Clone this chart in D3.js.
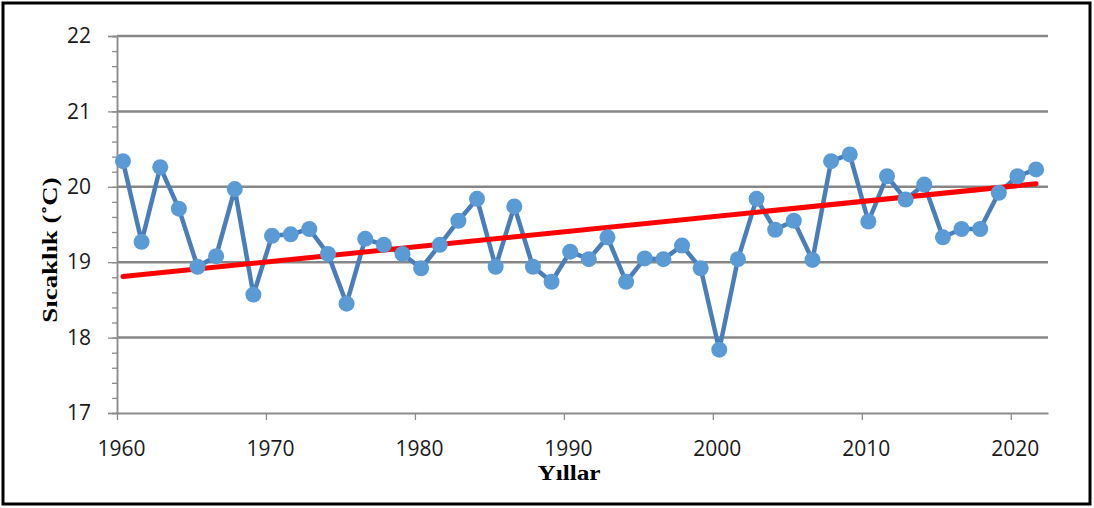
<!DOCTYPE html>
<html>
<head>
<meta charset="utf-8">
<script src="https://cdn.jsdelivr.net/npm/d3@7"></script>
<style>
  body { margin: 0; background: #fff; }
</style>
</head>
<body>
<svg id="chart" width="1094" height="508"></svg>
<script>
// temperatures, 50 points spread over 1960-2021
const temps = [
  20.34, 19.27, 20.26, 19.71, 18.94, 19.08, 19.97, 18.57, 19.35, 19.37,
  19.44, 19.11, 18.45, 19.31, 19.23, 19.11, 18.92, 19.23, 19.55, 19.84,
  18.94, 19.74, 18.94, 18.74, 19.14, 19.04, 19.33, 18.74, 19.05, 19.04,
  19.22, 18.92, 17.84, 19.04, 19.84, 19.43, 19.55, 19.03, 20.34, 20.43,
  19.54, 20.14, 19.83, 20.03, 19.33, 19.44, 19.44, 19.92, 20.14, 20.23
]
const seriesSpan = [1960.4, 2021.7]
const trendVals = [18.81, 20.04]
const yearTicks = [1960, 1970, 1980, 1990, 2000, 2010, 2020]
const tempTicks = [17, 18, 19, 20, 21, 22]

let svg = d3.select("#chart")

// frame
svg.append("rect")
  .attr("x", 3).attr("y", 3)
  .attr("width", 1087).attr("height", 501)
  .attr("fill", "none")
  .attr("stroke", "#000")
  .attr("stroke-width", 3)

let pLeft = 117, pRight = 1048, pTop = 36, pBottom = 413

let x = d3.scaleLinear().domain([1960, 2022.5]).range([pLeft, pRight])
let y = d3.scaleLinear().domain([17, 22]).range([pBottom, pTop])
let xi = d3.scaleLinear().domain([0, temps.length - 1]).range(seriesSpan.map(x))

// gridlines
svg.append("g")
  .selectAll("line")
  .data(tempTicks.slice(1))
  .enter()
  .append("line")
    .attr("x1", pLeft).attr("x2", pRight)
    .attr("y1", d => y(d)).attr("y2", d => y(d))
    .attr("stroke", "#878787")
    .attr("stroke-width", 2.5)

// y axis with minor ticks
let gy = svg.append("g").attr("transform", "translate(" + pLeft + ",0)")
gy.call(d3.axisLeft(y).tickValues(d3.range(17, 22.01, 0.2)).tickSize(5).tickFormat(""))
gy.append("g").call(d3.axisLeft(y).tickValues(tempTicks).tickSize(9).tickFormat(d3.format("d")))
gy.selectAll(".domain").attr("stroke", "#8c8c8c").attr("stroke-width", 1.5)
gy.selectAll("line").attr("stroke", "#8c8c8c").attr("stroke-width", 1.3)
gy.selectAll("text")
  .attr("font-family", "Open Sans, sans-serif")
  .attr("font-size", "21px")
  .attr("fill", "#1a1a1a")
  .attr("x", -26)

// x axis
let gx = svg.append("g").attr("transform", "translate(0," + pBottom + ")")
gx.call(d3.axisBottom(x).tickValues(yearTicks).tickSize(7).tickSizeOuter(0).tickFormat(d3.format("d")))
gx.selectAll(".domain").attr("stroke", "#8c8c8c").attr("stroke-width", 2)
gx.selectAll("line").attr("stroke", "#8c8c8c").attr("stroke-width", 1.3)
gx.selectAll("text")
  .attr("font-family", "Open Sans, sans-serif")
  .attr("font-size", "21px")
  .attr("fill", "#1a1a1a")
  .attr("dx", 4)
  .attr("y", 28)

// axis titles
svg.append("text")
  .text("Yıllar")
  .attr("transform", "translate(569,480) scale(1.15,1)")
  .attr("text-anchor", "middle")
  .attr("font-family", "Liberation Serif, serif")
  .attr("font-weight", "bold")
  .attr("font-size", "22px")

svg.append("text")
  .text("Sıcaklık (˚C)")
  .attr("transform", "translate(57,250) rotate(-90) scale(1.22,1)")
  .attr("text-anchor", "middle")
  .attr("font-family", "Liberation Serif, serif")
  .attr("font-weight", "bold")
  .attr("font-size", "22px")

// series line
let line = d3.line().x((d, i) => xi(i)).y(d => y(d))
svg.append("path")
  .datum(temps)
  .attr("d", line)
  .attr("fill", "none")
  .attr("stroke", "#4a7ebb")
  .attr("stroke-width", 4.5)
  .attr("stroke-linejoin", "round")

// trend line
svg.append("line")
  .attr("x1", xi(0)).attr("x2", xi(temps.length - 1))
  .attr("y1", y(trendVals[0])).attr("y2", y(trendVals[1]))
  .attr("stroke", "#ff0000")
  .attr("stroke-width", 5)
  .attr("stroke-linecap", "round")

// markers
svg.selectAll("mycircle")
  .data(temps)
  .enter()
  .append("circle")
    .attr("cx", (d, i) => xi(i))
    .attr("cy", d => y(d))
    .attr("r", 8)
    .attr("fill", "#5b9bd5")
</script>
</body>
</html>
